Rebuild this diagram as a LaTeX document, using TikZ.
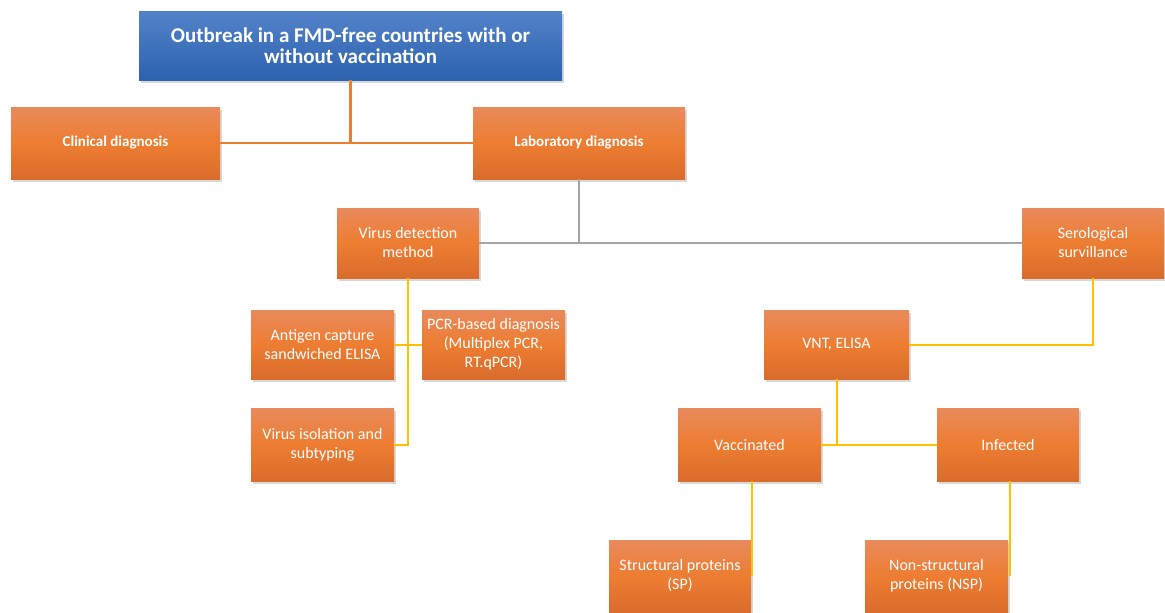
\documentclass[tikz,border=0pt]{standalone}
\usepackage{fontspec}
\setmainfont{Carlito}
\usetikzlibrary{positioning, shadows}
\definecolor{boxmid}{HTML}{ED7D31}
\definecolor{boxtop}{HTML}{E98A5C}
\definecolor{boxbot}{HTML}{DA6C2C}
\definecolor{titletop}{HTML}{5382C9}
\definecolor{titlebot}{HTML}{2C62AF}
\definecolor{lineorange}{HTML}{ED7D31}
\definecolor{linegray}{HTML}{A5A5A5}
\definecolor{lineyellow}{HTML}{FFC000}
\tikzstyle{box}=[rectangle, inner sep=0pt, align=center, text=white, top color=boxtop, bottom color=boxbot, middle color=boxmid, drop shadow={shadow xshift=2pt, shadow yshift=-3pt, opacity=0.3}]
\tikzstyle{boldbox}=[box, font=\fontsize{15}{19}\selectfont\bfseries]
\tikzstyle{titlebox}=[rectangle, inner sep=0pt, align=center, text=white, top color=titletop, bottom color=titlebot, drop shadow={shadow xshift=2pt, shadow yshift=-3pt, opacity=0.3}, font=\fontsize{21}{21}\selectfont\bfseries]
\tikzstyle{orangeline}=[lineorange, line width=2.5pt]
\tikzstyle{grayline}=[linegray, line width=2.5pt]
\tikzstyle{yellowline}=[lineyellow, line width=2pt]

\begin{document}
\begin{tikzpicture}[x=1pt,y=-1pt,font=\fontsize{16}{19}\selectfont]
    \useasboundingbox[fill=white] (0,0) rectangle (1165,613);
    \node[titlebox, minimum width=423pt, minimum height=69pt] (title) at (350.5,45.5) {Outbreak in a FMD-free countries with or\\without vaccination};
    \node[boldbox, minimum width=209pt, minimum height=72pt] (clin) at (115.5,143) {Clinical diagnosis};
    \node[boldbox, minimum width=212pt, minimum height=72pt] (lab) at (579,143) {Laboratory diagnosis};
    \node[box, minimum width=142pt, minimum height=70pt] (vdm) at (408,243) {Virus detection\\method};
    \node[box, minimum width=142pt, minimum height=70pt] (sero) at (1093,243) {Serological\\survillance};
    \node[box, minimum width=143pt, minimum height=69pt] (antigen) at (322.5,344.5) {Antigen capture\\sandwiched ELISA};
    \node[box, minimum width=143pt, minimum height=69pt] (pcr) at (493.5,344.5) {PCR-based diagnosis\\(Multiplex PCR,\\RT.qPCR)};
    \node[box, minimum width=143pt, minimum height=73pt] (iso) at (322.5,444.5) {Virus isolation and\\subtyping};
    \node[box, minimum width=145pt, minimum height=69pt] (vnt) at (836.5,344.5) {VNT, ELISA};
    \node[box, minimum width=143pt, minimum height=73pt] (vacc) at (749.5,444.5) {Vaccinated};
    \node[box, minimum width=142pt, minimum height=73pt] (inf) at (1008,444.5) {Infected};
    \node[box, minimum width=142pt, minimum height=72pt] (sp) at (680,576) {Structural proteins\\(SP)};
    \node[box, minimum width=143pt, minimum height=72pt] (nsp) at (936.5,576) {Non-structural\\proteins (NSP)};

    \draw[orangeline] (title.south) -- (title.south |- clin.east);
    \draw[orangeline] (clin.east) -- (lab.west);
    \draw[grayline] (lab.south) -- (lab.south |- vdm.east);
    \draw[grayline] (vdm.east) -- (sero.west);
    \draw[yellowline] (vdm.south) -- (vdm.south |- iso.east) -- (iso.east);
    \draw[yellowline] (antigen.east) -- (pcr.west);
    \draw[yellowline] (sero.south) |- (vnt.east);
    \draw[yellowline] (vnt.south) -- (vnt.south |- vacc.east);
    \draw[yellowline] (vacc.east) -- (inf.west);
    \draw[yellowline] ([xshift=2pt]vacc.south) -- ([xshift=2pt]vacc.south |- sp.east);
    \draw[yellowline] ([xshift=2pt]inf.south) -- ([xshift=2pt]inf.south |- nsp.east);
\end{tikzpicture}
\end{document}
